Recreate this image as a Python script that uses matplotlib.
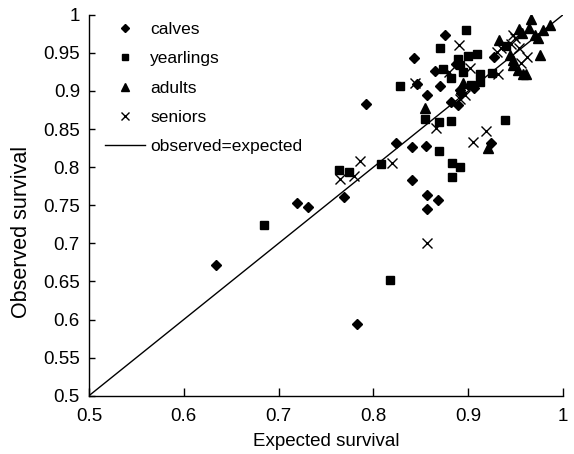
import matplotlib
matplotlib.use("Agg")
import matplotlib.pyplot as plt
from matplotlib.legend_handler import HandlerLine2D
import numpy as np

plt.rcParams['font.family'] = ['Liberation Sans', 'DejaVu Sans']

calves_x = [0.6335, 0.7196, 0.7308, 0.769, 0.783, 0.792, 0.8236, 0.841, 0.855, 0.841, 0.856, 0.8676,
            0.8566, 0.8426, 0.846, 0.8753, 0.8647, 0.8875, 0.870, 0.8566, 0.891, 0.892, 0.8823, 0.889,
            0.9058, 0.927, 0.924]
calves_y = [0.6715, 0.7533, 0.748, 0.761, 0.594, 0.883, 0.831, 0.826, 0.828, 0.783, 0.763, 0.7564,
            0.7446, 0.943, 0.909, 0.973, 0.926, 0.935, 0.907, 0.895, 0.901, 0.897, 0.886, 0.8815,
            0.9034, 0.945, 0.831]

yearlings_x = [0.685, 0.817, 0.764, 0.774, 0.808, 0.869, 0.883, 0.891, 0.883, 0.828, 0.898, 0.8707,
               0.900, 0.9087, 0.889, 0.8735, 0.891, 0.8946, 0.912, 0.8816, 0.912, 0.9027, 0.854,
               0.869, 0.8816, 0.9385, 0.9245, 0.940]
yearlings_y = [0.724, 0.652, 0.796, 0.793, 0.8037, 0.8215, 0.805, 0.7997, 0.7874, 0.9064, 0.980, 0.956,
               0.946, 0.948, 0.942, 0.929, 0.934, 0.925, 0.922, 0.9165, 0.912, 0.9077, 0.863,
               0.8596, 0.861, 0.862, 0.923, 0.959]

adults_x = [0.854, 0.894, 0.921, 0.9666, 0.9537, 0.964, 0.986, 0.979, 0.970, 0.957, 0.9326, 0.974,
            0.976, 0.944, 0.9475, 0.9475, 0.958, 0.9614, 0.952]
adults_y = [0.877, 0.911, 0.825, 0.9944, 0.9812, 0.982, 0.9865, 0.980, 0.974, 0.976, 0.9668, 0.969,
            0.947, 0.947, 0.9405, 0.934, 0.922, 0.922, 0.928]

seniors_x = [0.765, 0.780, 0.786, 0.820, 0.866, 0.905, 0.9185, 0.8566, 0.8437, 0.890, 0.880, 0.9016,
             0.8964, 0.891, 0.947, 0.949, 0.9455, 0.935, 0.954, 0.962, 0.930, 0.956, 0.9316]
seniors_y = [0.784, 0.788, 0.808, 0.806, 0.851, 0.833, 0.848, 0.700, 0.911, 0.960, 0.925, 0.930,
             0.8946, 0.889, 0.974, 0.969, 0.962, 0.956, 0.956, 0.945, 0.951, 0.936, 0.922]

line_vals = [0.5, 1.0]

xtick_vals = [0.5, 0.6, 0.7, 0.8, 0.9, 1.0]
xtick_labels = ['0.5', '0.6', '0.7', '0.8', '0.9', '1']
ytick_vals = [0.5, 0.55, 0.6, 0.65, 0.7, 0.75, 0.8, 0.85, 0.9, 0.95, 1.0]
ytick_labels = ['0.5', '0.55', '0.6', '0.65', '0.7', '0.75', '0.8', '0.85', '0.9', '0.95', '1']


class ShiftedMarkerHandler(HandlerLine2D):
    def get_xdata(self, legend, xdescent, ydescent, width, height, fontsize):
        xdata = np.array([-xdescent, -xdescent + width])
        xdata_marker = np.array([-xdescent + 0.72 * width])
        return xdata, xdata_marker


fig = plt.figure(figsize=(5.74, 4.54), dpi=100)
ax = fig.add_axes([0.155, 0.1284, 0.826, 0.8392])

h1, = ax.plot(calves_x, calves_y, linestyle='none', marker='D', ms=5.1, color='black', label='calves')
h2, = ax.plot(yearlings_x, yearlings_y, linestyle='none', marker='s', ms=5.2, color='black', label='yearlings')
h3, = ax.plot(adults_x, adults_y, linestyle='none', marker='^', ms=6.5, color='black', label='adults')
h4, = ax.plot(seniors_x, seniors_y, linestyle='none', marker='x', ms=6.8, mew=1.0, color='black', label='seniors')
h5, = ax.plot(line_vals, line_vals, color='black', lw=1.0, label='observed=expected')

ax.set_xlim(0.5, 1.0)
ax.set_ylim(0.5, 1.0)
ax.set_xticks(xtick_vals)
ax.set_xticklabels(xtick_labels)
ax.set_yticks(ytick_vals)
ax.set_yticklabels(ytick_labels)
ax.tick_params(axis='x', direction='in', length=5.5, width=1, labelsize=13.5, pad=8.5)
ax.tick_params(axis='y', direction='in', length=4.5, width=1, labelsize=13.5, pad=6.5)
for s in ['top', 'right']:
    ax.spines[s].set_visible(False)
for s in ['left', 'bottom']:
    ax.spines[s].set_linewidth(1.0)

ax.set_xlabel('Expected survival', fontsize=13.5, labelpad=6)
ax.set_ylabel('Observed survival', fontsize=15.5)
ax.yaxis.set_label_coords(-0.12, 0.43)

hm = {h: ShiftedMarkerHandler() for h in [h1, h2, h3, h4]}
ax.legend(handles=[h1, h2, h3, h4, h5], handler_map=hm,
          loc='upper left', bbox_to_anchor=(0.03, 0.986), frameon=False, fontsize=12.5,
          handlelength=2.3, handletextpad=0.3, labelspacing=0.82, borderpad=0.1,
          borderaxespad=0, markerscale=0.8)

fig.savefig('out.png', dpi=100)
